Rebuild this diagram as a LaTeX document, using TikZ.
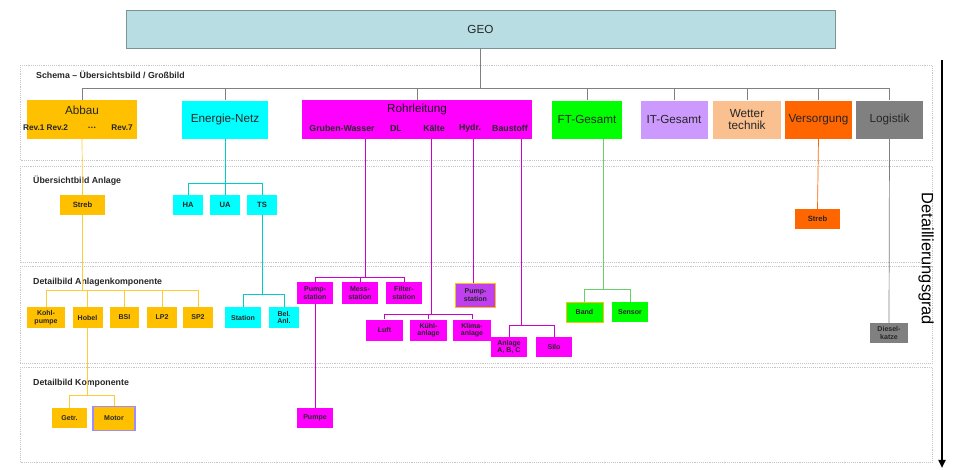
\documentclass[tikz,border=0pt]{standalone}
\usepackage{fontspec}
\setmainfont{Liberation Sans}
\usetikzlibrary{arrows.meta}
\definecolor{geoblau}{HTML}{B8DDE3}
\definecolor{georand}{HTML}{7A9494}
\definecolor{gelb}{HTML}{FFC000}
\definecolor{tuerkis}{HTML}{00FFFF}
\definecolor{pink}{HTML}{FF00FF}
\definecolor{gruen}{HTML}{00FF00}
\definecolor{lila}{HTML}{CC99FF}
\definecolor{pfirsich}{HTML}{FAC090}
\definecolor{orange}{HTML}{FF6600}
\definecolor{grau}{HTML}{808080}
\definecolor{violett}{HTML}{C040F0}
\definecolor{rahmen}{HTML}{9D8CFF}
\begin{document}
\begin{tikzpicture}[x=0.03cm, y=-0.03cm,
	kasten/.style={inner sep=0pt, align=center, text=black!85, font=\fontsize{10}{11}\selectfont},
	klein/.style={kasten, font=\fontsize{6}{6.5}\bfseries\selectfont},
	unter/.style={inner sep=0pt, text=black!85, font=\fontsize{7.5}{8}\bfseries\selectfont},
	mass/.style 2 args={minimum width=#1*0.03cm, minimum height=#2*0.03cm},
	ebene/.style={draw=gray!45, densely dotted, line width=.6pt},
	titel/.style={anchor=west, inner sep=0pt, text=black!85, font=\fontsize{7.5}{8}\bfseries\selectfont},
	linie/.style={line width=.6pt}]
	\useasboundingbox (0,0) rectangle (953,469);
	%\draw[help lines] (0,0) grid[step=50] (953,469);
	\draw[ebene] (20,65) rectangle (932,160);
	\draw[ebene] (20,166) rectangle (932,262);
	\draw[ebene] (20,266) rectangle (932,363);
	\draw[ebene] (20,367) rectangle (932,462);
	\path
		(36,75) node[titel] (t1) {Schema – Übersichtsbild / Großbild}
		(33,181) node[titel] (t2) {Übersichtbild Anlage}
		(33,282) node[titel] (t3) {Detailbild Anlagenkomponente}
		(33,383) node[titel] (t4) {Detailbild Komponente}
	;
	% Ebene 1
	\path
		(480.5,29) node[kasten, fill=geoblau, draw=georand, line width=.8pt, mass={709}{38}] (geo) {GEO}
		(82,119.5) node[kasten, fill=gelb, mass={110}{39}] (abbau) {}
		(225,119.5) node[kasten, fill=tuerkis, mass={86}{38}] (energie) {Energie-Netz}
		(417,119.5) node[kasten, fill=pink, mass={230}{39}] (rohr) {}
		(587,119.5) node[kasten, fill=gruen, mass={70}{38}] (ft) {FT-Gesamt}
		(674,119.5) node[kasten, fill=lila, mass={67}{38}] (it) {IT-Gesamt}
		(747,119.5) node[kasten, fill=pfirsich, mass={68}{38}] (wetter) {Wetter\\technik}
		(818.5,119.5) node[kasten, fill=orange, mass={67}{38}] (versorgung) {Versorgung}
		(889.5,119.5) node[kasten, fill=grau, mass={67}{38}] (logistik) {Logistik}
	;
	\path
		(82,110) node[kasten] (abbautext) {Abbau}
		(45.5,128) node[unter, font=\fontsize{7}{8}\bfseries\selectfont] (rev12) {Rev.1 Rev.2}
		(92,128) node[unter] (punkte) {…}
		(122,128) node[unter, font=\fontsize{7}{8}\bfseries\selectfont] (rev7) {Rev.7}
		(417,109) node[kasten, text=black!75!violet] (rohrtext) {Rohrleitung}
		(342,128) node[unter] (wasser) {Gruben-Wasser}
		(396,128) node[unter] (dl) {DL}
		(434,128) node[unter] (kaelte) {Kälte}
		(470,128) node[unter] (hydr) {Hydr.}
		(510,128) node[unter] (baustoff) {Baustoff}
	;
	\coordinate (bus) at (0,88);
	\draw[linie, gray] (geo.south) -- (geo.south |- bus);
	\draw[linie, gray] (abbau.north) |- (logistik.north |- bus) -- (logistik.north);
	\foreach \n in {energie, rohr, ft, it, wetter, versorgung}
		\draw[linie, gray] (\n.north) -- (\n.north |- bus);
	% Ebene 2
	\path
		(82.5,205) node[klein, fill=gelb, mass={45}{20}, font=\fontsize{6.5}{7}\bfseries\selectfont] (streb) {Streb}
		(188,205) node[klein, fill=tuerkis, mass={30}{20}, font=\fontsize{6.5}{7}\bfseries\selectfont] (ha) {HA}
		(225,205) node[klein, fill=tuerkis, mass={30}{20}, font=\fontsize{6.5}{7}\bfseries\selectfont] (ua) {UA}
		(262,205) node[klein, fill=tuerkis, mass={30}{20}, font=\fontsize{6.5}{7}\bfseries\selectfont] (ts) {TS}
		(817.5,219) node[klein, fill=orange, mass={45}{20}, font=\fontsize{6.5}{7}\bfseries\selectfont] (streb2) {Streb}
	;
	% Ebene 3
	\path
		(46,317.5) node[klein, fill=gelb, mass={38}{21}] (kohl) {Kohl-\\pumpe}
		(87.5,317.5) node[klein, fill=gelb, mass={30}{21}] (hobel) {Hobel}
		(124.5,317.5) node[klein, fill=gelb, mass={29}{21}] (bsi) {BSI}
		(162,317.5) node[klein, fill=gelb, mass={30}{21}] (lp) {LP2}
		(198,317.5) node[klein, fill=gelb, mass={30}{21}] (sp) {SP2}
		(243,317.5) node[klein, fill=tuerkis, mass={36}{21}] (station) {Station}
		(284,317.5) node[klein, fill=tuerkis, mass={30}{21}] (belanl) {Bel.\\Anl.}
		(315,293) node[klein, fill=pink, mass={36}{22}] (pumpst) {Pump-\\station}
		(360,293) node[klein, fill=pink, mass={36}{22}] (messst) {Mess-\\station}
		(404,293) node[klein, fill=pink, mass={36}{22}] (filterst) {Filter-\\station}
		(475.5,295) node[klein, fill=violett, draw=gelb, line width=.8pt, mass={40}{24}] (hydrst) {Pump-\\station}
		(384.5,330) node[klein, fill=pink, mass={37}{21}] (luft) {Luft}
		(428.5,330) node[klein, fill=pink, mass={37}{21}] (kuehl) {Kühl-\\anlage}
		(472,330) node[klein, fill=pink, mass={38}{21}] (klima) {Klima-\\anlage}
		(509,347) node[klein, fill=pink, mass={36}{20}] (anlage) {Anlage\\A, B, C}
		(554,347) node[klein, fill=pink, mass={36}{20}] (silo) {Silo}
		(584.5,312) node[klein, fill=gruen, draw=gelb, line width=.8pt, mass={37}{20}] (band) {Band}
		(630,312) node[klein, fill=gruen, mass={36}{20}] (sensor) {Sensor}
		(889,333) node[klein, fill=grau, mass={38}{20}] (diesel) {Diesel-\\katze}
	;
	% Ebene 4
	\path
		(69.5,418) node[klein, fill=gelb, mass={35}{20}] (getr) {Getr.}
		(114,418.5) node[klein, fill=gelb, draw=rahmen, line width=1.5pt, mass={42}{24}] (motor) {Motor}
		(315,418) node[klein, fill=pink, mass={36}{20}] (pumpe) {Pumpe}
	;
	% Abbau
	\begin{scope}[linie, draw=gelb!80!white]
		\coordinate (busA3) at (0,290);
		\coordinate (busA4) at (0,395);
		\draw (abbau.south) -- (streb.north);
		\draw (streb.south) -- (streb.south |- busA3);
		\draw (kohl.north |- busA3) -- (sp.north |- busA3);
		\foreach \n in {kohl, hobel, bsi, lp, sp}
			\draw (\n.north) -- (\n.north |- busA3);
		\draw (hobel.south) -- (hobel.south |- busA4);
		\draw (getr.north) |- (motor.north |- busA4) -- (motor.north);
	\end{scope}
	% Energie-Netz
	\begin{scope}[linie, draw=tuerkis!80!black]
		\coordinate (busE2) at (0,183);
		\coordinate (busE3) at (0,294);
		\draw (energie.south) -- (energie.south |- busE2);
		\draw (ha.north) |- (ts.north |- busE2) -- (ts.north);
		\draw (ua.north) -- (ua.north |- busE2);
		\draw (ts.south) -- (ts.south |- busE3);
		\draw (station.north) |- (belanl.north |- busE3) -- (belanl.north);
	\end{scope}
	% Rohrleitung
	\begin{scope}[linie, draw=pink!80!black]
		\coordinate (r1) at (365,139);
		\coordinate (r2) at (431,139);
		\coordinate (r3) at (473,139);
		\coordinate (r4) at (521,139);
		\coordinate (busR) at (0,277);
		\coordinate (busK) at (0,314);
		\coordinate (busB) at (0,325);
		\draw (r1) -- (r1 |- busR);
		\draw (pumpst.north) |- (filterst.north |- busR) -- (filterst.north);
		\draw (messst.north) -- (messst.north |- busR);
		\draw (pumpst.south) -- (pumpe.north);
		\draw (r2) -- (r2 |- busK);
		\draw (luft.north) |- (klima.north |- busK) -- (klima.north);
		\draw (kuehl.north) -- (kuehl.north |- busK);
		\draw (r3) -- (r3 |- hydrst.north);
		\draw (r4) -- (r4 |- busB);
		\draw (anlage.north) |- (silo.north |- busB) -- (silo.north);
	\end{scope}
	% FT, Versorgung, Logistik
	\coordinate (f1) at (603,139);
	\coordinate (busF) at (0,289);
	\draw[linie, draw=gruen!70!black!60] (f1) -- (f1 |- busF);
	\draw[linie, draw=gruen!70!black!60] (band.north) |- (sensor.north |- busF) -- (sensor.north);
	\draw[linie, draw=orange] (versorgung.south) -- (streb2.north);
	\draw[linie, draw=grau] (logistik.south) -- (diesel.north);
	% Detaillierungsgrad
	\coordinate (oben) at (942,60);
	\coordinate (unten) at (942,468);
	\draw[line width=2pt, -{Triangle[length=7pt,width=6pt]}] (oben) -- (unten);
	\node[rotate=-90, inner sep=0pt, font=\fontsize{14}{16}\selectfont] (grad) at (926,259) {Detaillierungsgrad};
\end{tikzpicture}
\end{document}
